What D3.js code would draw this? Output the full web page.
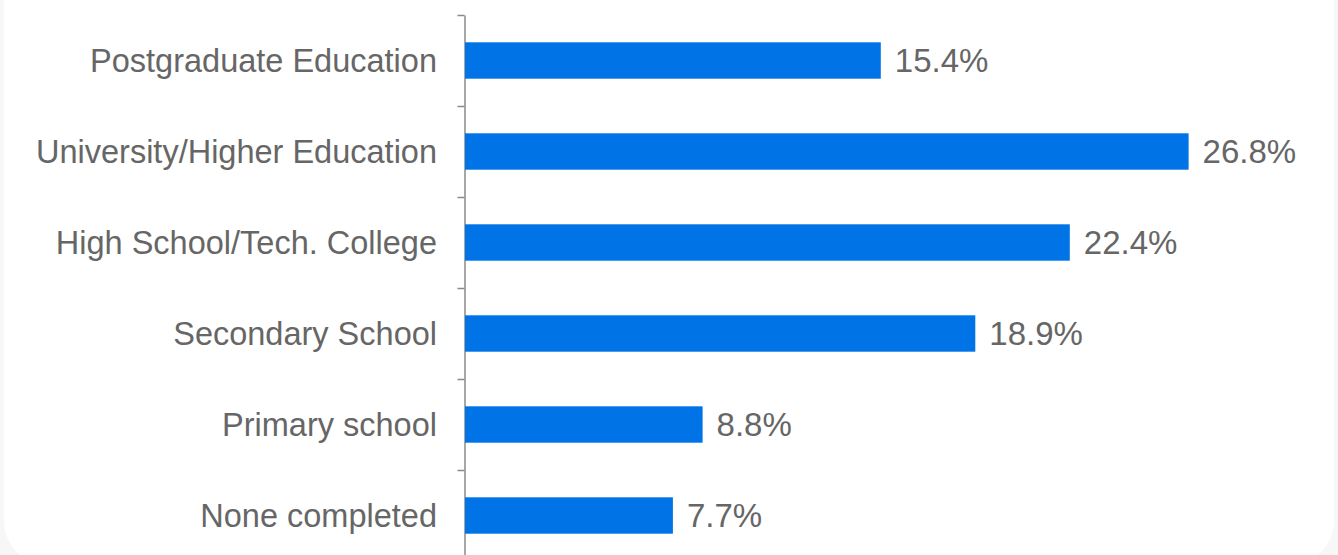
<!DOCTYPE html>
<html>
<head>
<meta charset="utf-8">
<script src="https://cdn.jsdelivr.net/npm/d3@7"></script>
<style>
  html, body { margin: 0; padding: 0; background: #f7f7f7; }
  svg { display: block; }
</style>
</head>
<body>
<svg id="chart" width="1338" height="555"></svg>
<script>
const categories = [
  "Postgraduate Education",
  "University/Higher Education",
  "High School/Tech. College",
  "Secondary School",
  "Primary school",
  "None completed"
];
const values = [15.4, 26.8, 22.4, 18.9, 8.8, 7.7];
const valueLabels = ["15.4%", "26.8%", "22.4%", "18.9%", "8.8%", "7.7%"];

const W = 1338, H = 555;
const svg = d3.select("#chart");

// card background
svg.append("rect")
  .attr("x", 4).attr("y", -60)
  .attr("width", 1330).attr("height", 625)
  .attr("rx", 44).attr("ry", 44)
  .attr("fill", "#ffffff");

const x0 = 465;
const x = d3.scaleLinear().domain([0, 32]).range([x0, x0 + 32 * 27.0]);
const y = d3.scaleBand().domain(categories).range([15, 561]).padding(0);
const step = y.bandwidth();

// axis with ticks at band boundaries
const tickScale = d3.scaleLinear().domain([0, categories.length]).range([15, 561]);
const axisG = svg.append("g")
  .attr("transform", `translate(${x0 - 0.5},0)`)
  .call(d3.axisLeft(tickScale).ticks(categories.length).tickFormat("").tickSize(7).tickSizeOuter(0));
axisG.select(".domain").attr("stroke", "#8a8a8a").attr("stroke-width", 1.5);
axisG.selectAll(".tick line").attr("stroke", "#8a8a8a").attr("stroke-width", 1.5);

// bars
svg.append("g").selectAll("rect")
  .data(categories)
  .join("rect")
  .attr("x", x(0))
  .attr("y", d => y(d) + step * 0.3)
  .attr("width", (d, i) => x(values[i]) - x(0))
  .attr("height", step * 0.4)
  .attr("fill", "#0074e6");

// category labels
svg.append("g").selectAll("text")
  .data(categories)
  .join("text")
  .attr("x", x0 - 28)
  .attr("y", d => y(d) + step / 2)
  .attr("dy", "0.35em")
  .attr("text-anchor", "end")
  .attr("font-family", "'Liberation Sans', Arial, sans-serif")
  .attr("font-size", 32.5)
  .attr("fill", "#666666")
  .text(d => d);

// value labels
svg.append("g").selectAll("text")
  .data(categories)
  .join("text")
  .attr("x", (d, i) => x(values[i]) + 14)
  .attr("y", d => y(d) + step / 2)
  .attr("dy", "0.35em")
  .attr("font-family", "'Liberation Sans', Arial, sans-serif")
  .attr("font-size", 33)
  .attr("fill", "#666666")
  .text((d, i) => valueLabels[i]);
</script>
</body>
</html>
